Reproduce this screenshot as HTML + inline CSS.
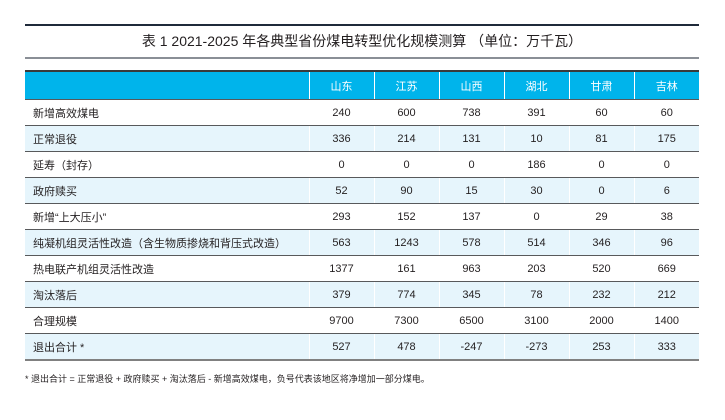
<!DOCTYPE html>
<html><head><meta charset="utf-8"><style>
body{margin:0;width:725px;height:420px;background:#fff;font-family:"Liberation Sans","Noto Sans CJK SC",sans-serif;color:#231f20;position:relative;overflow:hidden}
.tl{position:absolute;left:25px;width:674px;height:2px;background:#1f2a3a}
.title{position:absolute;left:25px;width:674px;top:31px;text-align:center;font-size:14px}
table{position:absolute;left:25px;top:70px;border-collapse:collapse;width:674px;table-layout:fixed;font-size:11px}
td{height:25px;padding:0;border-bottom:1px solid #58595b;text-align:center;border-left:1px solid #fff}
td:first-child{text-align:left;padding-left:8px;border-left:none}
tr.h td{background:#00b4eb;color:#fff;height:27px;border-top:2px solid #3a3a3a}
tr.b td{background:#e6f5fc}
tr:last-child td{border-bottom:2px solid #808080}
.fn{position:absolute;left:25px;top:372px;font-size:9px}
</style></head><body>
<div class="tl" style="top:24px"></div>
<div class="title">表 1 2021-2025 年各典型省份煤电转型优化规模测算 （单位：万千瓦）</div>
<div class="tl" style="top:57px;background:#8a8f96"></div>
<table>
<colgroup><col style="width:284px"><col><col><col><col><col><col></colgroup>
<tr class="h"><td></td><td>山东</td><td>江苏</td><td>山西</td><td>湖北</td><td>甘肃</td><td>吉林</td></tr>
<tr><td>新增高效煤电</td><td>240</td><td>600</td><td>738</td><td>391</td><td>60</td><td>60</td></tr>
<tr class="b"><td>正常退役</td><td>336</td><td>214</td><td>131</td><td>10</td><td>81</td><td>175</td></tr>
<tr><td>延寿（封存）</td><td>0</td><td>0</td><td>0</td><td>186</td><td>0</td><td>0</td></tr>
<tr class="b"><td>政府赎买</td><td>52</td><td>90</td><td>15</td><td>30</td><td>0</td><td>6</td></tr>
<tr><td>新增“上大压小”</td><td>293</td><td>152</td><td>137</td><td>0</td><td>29</td><td>38</td></tr>
<tr class="b"><td>纯凝机组灵活性改造（含生物质掺烧和背压式改造）</td><td>563</td><td>1243</td><td>578</td><td>514</td><td>346</td><td>96</td></tr>
<tr><td>热电联产机组灵活性改造</td><td>1377</td><td>161</td><td>963</td><td>203</td><td>520</td><td>669</td></tr>
<tr class="b"><td>淘汰落后</td><td>379</td><td>774</td><td>345</td><td>78</td><td>232</td><td>212</td></tr>
<tr><td>合理规模</td><td>9700</td><td>7300</td><td>6500</td><td>3100</td><td>2000</td><td>1400</td></tr>
<tr class="b"><td>退出合计 *</td><td>527</td><td>478</td><td>-247</td><td>-273</td><td>253</td><td>333</td></tr>
</table>
<div class="fn">* 退出合计 = 正常退役 + 政府赎买 + 淘汰落后 - 新增高效煤电，负号代表该地区将净增加一部分煤电。</div>
</body></html>
